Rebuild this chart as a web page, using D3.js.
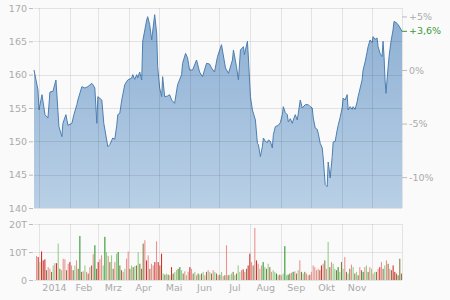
<!DOCTYPE html>
<html><head><meta charset="utf-8">
<script src="https://cdn.jsdelivr.net/npm/d3@7"></script>
<style>
html,body{margin:0;padding:0;background:#fafafa;}
svg{display:block;}
text{font-family:"DejaVu Sans",Verdana,sans-serif;}
</style></head>
<body>
<script>
// ---- DATA ----
const priceDates = ["2013-12-27","2013-12-31","2014-01-01","2014-01-04","2014-01-07","2014-01-10","2014-01-12","2014-01-15","2014-01-18","2014-01-21","2014-01-24","2014-01-25","2014-01-28","2014-01-30","2014-02-03","2014-02-05","2014-02-08","2014-02-09","2014-02-13","2014-02-16","2014-02-19","2014-02-23","2014-02-24","2014-02-26","2014-02-28","2014-03-01","2014-03-05","2014-03-07","2014-03-11","2014-03-13","2014-03-16","2014-03-18","2014-03-20","2014-03-21","2014-03-23","2014-03-25","2014-03-28","2014-03-31","2014-04-04","2014-04-05","2014-04-07","2014-04-09","2014-04-10","2014-04-12","2014-04-14","2014-04-15","2014-04-19","2014-04-20","2014-04-22","2014-04-24","2014-04-27","2014-04-29","2014-04-30","2014-05-02","2014-05-04","2014-05-05","2014-05-07","2014-05-10","2014-05-12","2014-05-14","2014-05-17","2014-05-20","2014-05-24","2014-05-25","2014-05-28","2014-05-30","2014-06-01","2014-06-04","2014-06-08","2014-06-11","2014-06-14","2014-06-18","2014-06-21","2014-06-23","2014-06-26","2014-06-29","2014-07-03","2014-07-07","2014-07-10","2014-07-14","2014-07-15","2014-07-18","2014-07-20","2014-07-22","2014-07-25","2014-07-26","2014-07-29","2014-07-30","2014-08-01","2014-08-03","2014-08-06","2014-08-08","2014-08-09","2014-08-11","2014-08-13","2014-08-14","2014-08-16","2014-08-18","2014-08-19","2014-08-21","2014-08-23","2014-08-24","2014-08-26","2014-08-29","2014-08-31","2014-09-02","2014-09-03","2014-09-05","2014-09-07","2014-09-08","2014-09-10","2014-09-12","2014-09-13","2014-09-15","2014-09-17","2014-09-18","2014-09-20","2014-09-22","2014-09-25","2014-09-28","2014-09-30","2014-10-02","2014-10-03","2014-10-05","2014-10-07","2014-10-08","2014-10-10","2014-10-12","2014-10-13","2014-10-15","2014-10-17","2014-10-18","2014-10-20","2014-10-22","2014-10-23","2014-10-25","2014-10-27","2014-10-28","2014-10-30","2014-11-01","2014-11-02","2014-11-04","2014-11-06","2014-11-07","2014-11-09","2014-11-11","2014-11-12","2014-11-14","2014-11-16","2014-11-17","2014-11-21","2014-11-22","2014-11-24","2014-11-26","2014-11-27","2014-11-29","2014-12-01","2014-12-02","2014-12-04","2014-12-06","2014-12-07","2014-12-09","2014-12-11","2014-12-12","2014-12-13","2014-12-14","2014-12-15","2014-12-16","2014-12-18","2014-12-20","2014-12-22","2014-12-23","2014-12-26","2014-12-28","2014-12-31"];
const priceValues = [160.7,157.7,154.7,157.0,154.0,153.5,157.4,157.5,159.2,152.2,150.7,152.7,154.0,152.4,152.7,154.0,155.5,156.2,158.2,158.0,158.2,158.7,158.5,158.0,152.7,156.7,156.2,152.7,149.2,149.5,150.5,150.3,152.4,154.0,154.2,156.2,158.5,159.2,159.5,160.0,159.3,160.0,159.5,160.4,159.2,165.0,168.2,168.7,167.5,165.2,169.0,166.2,161.2,158.0,156.7,159.7,156.7,156.8,157.0,156.2,155.7,158.5,160.0,161.7,163.2,162.5,160.7,160.7,162.2,160.4,159.7,161.7,161.6,161.0,160.4,162.7,164.5,161.0,160.2,162.2,163.7,161.2,159.2,163.7,164.2,163.0,165.0,162.5,156.7,154.7,153.2,149.7,149.5,147.7,149.2,150.5,150.0,149.8,150.2,150.0,149.0,151.0,152.2,152.4,152.8,154.0,155.2,154.3,154.0,152.9,153.4,152.7,153.2,154.0,153.2,154.2,156.2,155.0,155.5,155.5,155.2,155.0,153.5,152.0,151.8,151.2,149.7,149.0,147.5,143.5,143.2,146.9,144.5,147.7,149.9,150.0,151.7,152.4,153.6,155.0,156.5,156.2,157.0,154.7,155.2,154.8,155.2,154.8,155.9,156.7,159.2,160.7,161.9,163.4,164.2,165.2,164.8,165.7,165.3,165.5,164.2,163.2,162.7,165.0,162.7,159.2,157.2,159.2,162.7,165.0,166.7,168.0,167.7,167.3,166.5];

// volume in thousands (T), one per trading session, with direction/intensity code
const volumeValues = [8.6,8.2,6.4,10.2,7.0,7.4,3.5,4.6,4.0,2.9,5.2,6.0,6.0,13.0,4.0,3.5,7.6,7.4,3.5,5.8,6.4,5.2,3.5,5.2,7.0,4.0,15.7,2.9,3.1,5.2,2.9,2.3,4.6,5.2,9.2,12.4,4.0,6.4,7.4,8.8,5.2,15.4,10.0,8.6,6.4,8.8,4.0,6.4,9.4,10.0,5.2,3.5,2.9,4.0,7.6,10.2,4.0,5.2,4.6,5.0,5.2,10.0,5.8,4.0,13.0,14.2,7.0,8.8,4.0,5.8,5.2,
6.4,13.8,6.4,5.2,9.4,2.3,1.9,2.3,1.9,1.7,4.6,2.3,2.9,3.5,4.0,4.6,3.5,2.3,3.1,1.7,2.9,4.6,4.0,2.3,2.9,1.7,2.3,1.9,2.3,2.9,1.7,2.9,3.5,2.9,2.3,3.5,2.9,2.3,1.7,1.9,2.9,1.4,1.7,12.4,1.7,1.9,2.3,2.9,1.7,2.3,5.2,2.9,3.5,3.8,2.9,4.0,5.2,9.4,6.4,5.2,18.6,7.0,5.8,4.0,5.2,6.4,4.6,4.0,5.8,4.6,2.9,3.5,2.9,2.3,1.7,1.9,
1.7,2.3,12.1,1.7,1.9,2.3,2.6,2.9,3.1,2.3,3.5,7.0,2.9,2.3,2.9,2.3,1.7,1.9,2.9,5.2,4.6,3.5,4.0,3.5,5.2,5.8,7.0,4.0,13.6,4.6,6.4,5.8,4.0,3.5,4.6,2.9,6.4,4.0,8.2,2.9,2.3,4.0,5.5,4.6,2.3,2.9,1.7,4.6,3.5,2.9,4.6,5.2,2.9,4.6,4.0,2.3,2.9,2.9,4.0,4.6,6.4,4.0,5.2,7.0,5.8,4.0,3.5,5.2,2.9,2.3,1.7,7.6,2.3];
const volumeCodes = ("r R g R R R k r r k g r R g k g r r k r R r k g r k G k r g r k r k r G k R r r g G g r k g k r g G k k r g r r k g k g k g k k k r R r k r r" +
" R r R k R g k g k g R k g g k G g k r g r R r k g r k g k g r k r g k r g k r k g r k r k g g k g k g g r R r k R R r k r R r g r G g k g k r g" +
" g G r k r g G g G k r G r k g r k g k r r k r r r r r k R r k r g k r g g k G g k g r k g k r g k g k r k G r g k r g r g k r R r k g r k r k R R").split(" ");

const yTicks = [140,145,150,155,160,165,170];
const pctTicks = [-10,-5,0,5];
const volTicks = [0,10,20];
const monthLabels = ["2014","Feb","Mrz","Apr","Mai","Jun","Jul","Aug","Sep","Okt","Nov"];

// ---- LAYOUT ----
const W = 450, H = 300;
const L = 34, R = 402, T = 8, B = 208, VT = 224, VB = 280;
const parse = d3.timeParse("%Y-%m-%d");
const series = priceDates.map((d,i)=>({date:parse(d), v:priceValues[i]}));
const x = d3.scaleTime().domain([parse("2013-12-27"), parse("2014-12-31")]).range([L, R]);
const y = d3.scaleLinear().domain([140,170]).range([B, T]);
const base = priceValues[0];
const yv = d3.scaleLinear().domain([0,20]).range([VB, VT]);
const xb = d3.scaleBand().domain(d3.range(volumeValues.length)).range([36, 402]).paddingInner(0.35);
const colorMap = {R:"#d2322d", r:"#e8938e", G:"#2e962e", g:"#92cf88", k:"#8b7a45"};

const svg = d3.select("body").append("svg").attr("width",W).attr("height",H);
const defs = svg.append("defs");
const grad = defs.append("linearGradient").attr("id","ag").attr("x1",0).attr("y1",0).attr("x2",0).attr("y2",1);
grad.append("stop").attr("offset","0%").attr("stop-color","#8eb0d4");
grad.append("stop").attr("offset","100%").attr("stop-color","#b9d0e6");

const months = d3.timeMonth.range(parse("2014-01-01"), parse("2014-12-02"));
const gridColor = "rgba(0,0,0,0.09)";
const axisText = "#aaaaaa";
const fs = "9.5px";

// area + line
svg.append("path").datum(series)
  .attr("d", d3.area().x(d=>x(d.date)).y0(B).y1(d=>y(d.v)))
  .attr("fill","url(#ag)");
svg.append("path").datum(series)
  .attr("d", d3.line().x(d=>x(d.date)).y(d=>y(d.v)))
  .attr("fill","none").attr("stroke","#4d7fb1").attr("stroke-width",1).attr("stroke-linejoin","round");

// main grid
const g1 = svg.append("g");
g1.selectAll("line.h").data(yTicks).join("line")
  .attr("x1",L).attr("x2",R).attr("y1",d=>Math.round(y(d))+0.5).attr("y2",d=>Math.round(y(d))+0.5)
  .attr("stroke",gridColor);
g1.selectAll("line.v").data(months).join("line")
  .attr("x1",d=>Math.round(x(d))+0.5).attr("x2",d=>Math.round(x(d))+0.5).attr("y1",T).attr("y2",B)
  .attr("stroke",gridColor);
// right border
g1.append("line").attr("x1",R+0.5).attr("x2",R+0.5).attr("y1",T).attr("y2",B).attr("stroke",gridColor);

// left axis
const ax = svg.append("g").attr("transform",`translate(${L-1},0)`)
  .call(d3.axisLeft(y).tickValues(yTicks).tickSize(4).tickPadding(2));
ax.select(".domain").remove();
ax.selectAll(".tick line").attr("stroke","#bbb");
ax.selectAll("text").attr("fill",axisText).style("font-size",fs).style("font-family","DejaVu Sans");

// right pct axis
const yp = d3.scaleLinear().domain([(140/base-1)*100,(170/base-1)*100]).range([B,T]);
const fmtPct = v => (v>0?"+":v<0?"-":"") + Math.abs(v).toFixed(0) + "%";
const ar = svg.append("g").attr("transform",`translate(${R},0)`)
  .call(d3.axisRight(yp).tickValues(pctTicks).tickSize(5).tickPadding(2).tickFormat(fmtPct));
ar.select(".domain").remove();
ar.selectAll(".tick line").attr("stroke","#bbb");
ar.selectAll("text").attr("fill",axisText).style("font-size",fs).style("font-family","DejaVu Sans");
// current change marker
const last = priceValues[priceValues.length-1];
const chg = (last/base-1)*100;
const ly = yp(chg);
svg.append("line").attr("x1",R).attr("x2",R+5).attr("y1",ly).attr("y2",ly).attr("stroke","#3a9a3a");
svg.append("text").attr("x",R+7).attr("y",ly).attr("dy","0.32em")
  .attr("fill","#3a9a3a").style("font-size",fs)
  .text((chg>=0?"+":"") + chg.toFixed(1).replace(".",",") + "%");

// volume grid
const g2 = svg.append("g");
g2.selectAll("line.h").data(volTicks).join("line")
  .attr("x1",L).attr("x2",R).attr("y1",d=>Math.round(yv(d))+0.5).attr("y2",d=>Math.round(yv(d))+0.5)
  .attr("stroke",gridColor);
g2.selectAll("line.v").data(months).join("line")
  .attr("x1",d=>Math.round(x(d))+0.5).attr("x2",d=>Math.round(x(d))+0.5).attr("y1",VT).attr("y2",VB)
  .attr("stroke",gridColor);
g2.append("line").attr("x1",R+0.5).attr("x2",R+0.5).attr("y1",VT).attr("y2",VB).attr("stroke",gridColor);

// volume bars
svg.append("g").selectAll("rect").data(volumeValues).join("rect")
  .attr("x",(d,i)=>xb(i)).attr("width",Math.max(1,xb.bandwidth()))
  .attr("y",d=>yv(d)).attr("height",d=>VB-yv(d))
  .attr("fill",(d,i)=>colorMap[volumeCodes[i]]||"#8b7a45");

// volume axis
const av = svg.append("g").attr("transform",`translate(${L-1},0)`)
  .call(d3.axisLeft(yv).tickValues(volTicks).tickSize(4).tickPadding(2).tickFormat(d=>d===0?"0":d+"T"));
av.select(".domain").remove();
av.selectAll(".tick line").attr("stroke","#bbb");
av.selectAll("text").attr("fill",axisText).style("font-size",fs).style("font-family","DejaVu Sans");

// month labels centred in each month
svg.append("g").selectAll("text").data(monthLabels).join("text")
  .attr("x",(d,i)=>{const a=months[i], b=d3.timeMonth.offset(a,1); return (x(a)+x(b))/2;})
  .attr("y",291).attr("text-anchor","middle")
  .attr("fill",axisText).style("font-size",fs).text(d=>d);
</script>
</body></html>
